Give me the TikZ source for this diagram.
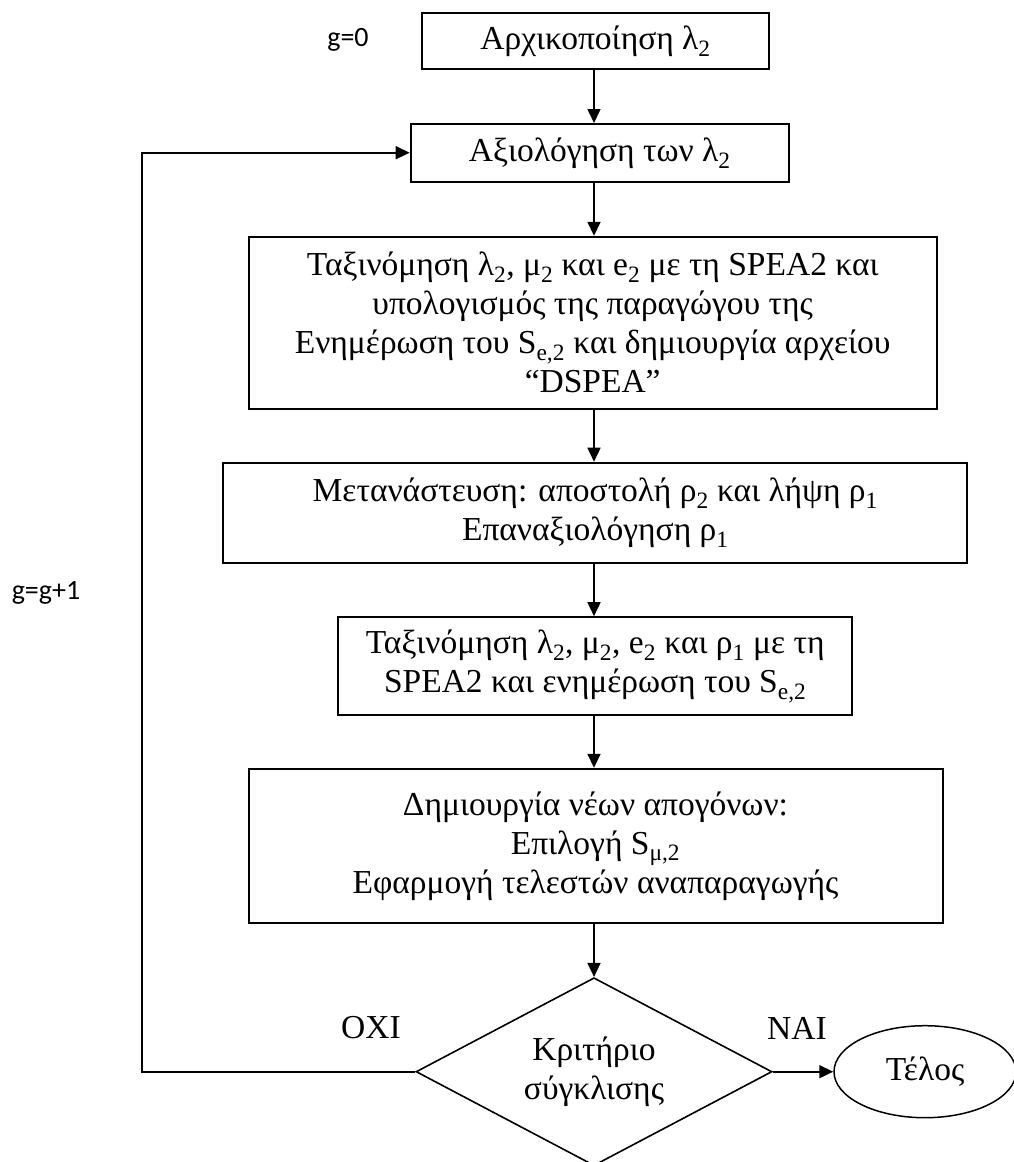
\documentclass[tikz,border=0pt]{standalone}
\usepackage{fontspec}
\setmainfont{Liberation Serif}
\newfontfamily\calibrifont{Carlito}
\usetikzlibrary{shapes.geometric,arrows.meta}

\begin{document}
\begin{tikzpicture}[x=1pt,y=-1pt,
  box/.style={draw,line width=2pt,align=center,inner sep=0pt,
    font=\fontsize{33.5}{39}\selectfont},
  flow/.style={line width=1.6pt,-{Triangle[length=14pt,width=13pt]}},
  lbl/.style={font=\fontsize{33.5}{39}\selectfont,inner sep=0pt},
  glbl/.style={font=\calibrifont\fontsize{28}{34}\selectfont,inner sep=0pt}]

\useasboundingbox (0,0) rectangle (1014,1162);

% main vertical axis of the flow
\coordinate (ax) at (594,0);

\node[box,minimum width=347pt,minimum height=56pt] (init) at (595.5,41)
  {Αρχικοποίηση λ\textsubscript{2}};
\node[box,minimum width=378pt,minimum height=58pt] (eval) at (599.7,153)
  {Αξιολόγηση των λ\textsubscript{2}};
\node[box,minimum width=688pt,minimum height=172pt] (sort) at (592.7,322.8)
  {Ταξινόμηση λ\textsubscript{2}, μ\textsubscript{2} και e\textsubscript{2} με τη SPEA2 και\\
   υπολογισμός της παραγώγου της\\
   Ενημέρωση του S\textsubscript{e,2} και δημιουργία αρχείου\\
   “DSPEA”};
\node[box,minimum width=744pt,minimum height=100pt] (migr) at (595.3,512.7)
  {Μετανάστευση: αποστολή ρ\textsubscript{2} και λήψη ρ\textsubscript{1}\\
   Επαναξιολόγηση ρ\textsubscript{1}};
\node[box,minimum width=514pt,minimum height=98pt] (resort) at (595.2,666.2)
  {Ταξινόμηση λ\textsubscript{2}, μ\textsubscript{2}, e\textsubscript{2} και ρ\textsubscript{1} με τη\\
   SPEA2 και ενημέρωση του S\textsubscript{e,2}};
\node[box,minimum width=694pt,minimum height=154pt] (offs) at (595.5,845.8)
  {Δημιουργία νέων απογόνων:\\
   Επιλογή S\textsubscript{μ,2}\\
   Εφαρμογή τελεστών αναπαραγωγής};
\node[box,diamond,line width=1.6pt,minimum width=356pt,minimum height=188pt,
  shape aspect=1.9] (conv) at (594,1071.7) {Κριτήριο\\σύγκλισης};
\node[box,ellipse,line width=1.5pt,minimum width=182pt,minimum height=92pt]
  (end) at (925,1071.7) {Τέλος};

% labels
\node[glbl] (g0) at (348,40) {g=0};
\node[glbl] (gg) at (46,593) {g=g+1};
\node[lbl] (no) at (371,1028) {OXI};
\node[lbl] (yes) at (797,1028) {NAI};

% connectors
\draw[flow] (init.south -| ax) -- (eval.north -| ax);
\draw[flow] (eval.south -| ax) -- (sort.north -| ax);
\draw[flow] (sort.south -| ax) -- (migr.north -| ax);
\draw[flow] (migr.south -| ax) -- (resort.north -| ax);
\draw[flow] (resort.south -| ax) -- (offs.north -| ax);
\draw[flow] (offs.south -| ax) -- (conv.north);
\draw[flow] (conv.east) -- (end.west);
\coordinate (loopbl) at (141.7,1071.7);
\coordinate (looptl) at (141.7,152.7);
\draw[flow] (conv.west) -- (loopbl) -- (looptl) -- (eval.west |- looptl);
\end{tikzpicture}
\end{document}
